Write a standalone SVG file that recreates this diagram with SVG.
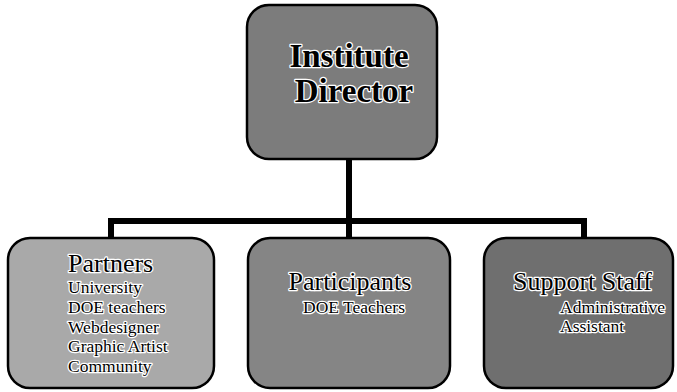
<svg xmlns="http://www.w3.org/2000/svg" width="677" height="392" viewBox="0 0 677 392">
<style>
.box{stroke:#000;stroke-width:2.5}
.t{font-family:"Liberation Serif","Times New Roman",serif;fill:#000;stroke:#fff;stroke-width:2.5;paint-order:stroke;stroke-linejoin:round}
.h{font-size:26px}
.s{font-size:17.5px}
.b{font-size:33px;font-weight:bold}
.c{fill:none;stroke:#000;stroke-width:6;stroke-linecap:square;stroke-linejoin:miter}
</style>
<rect width="677" height="392" fill="#fff"/>
<g id="connectors">
<path class="c" d="M349 160V221M111 238V221H584V238M349 221V238"/>
</g>
<g id="director">
<rect class="box" x="247" y="5" width="190" height="154" rx="22" fill="#7c7c7c"/>
<text class="t b" x="349" y="67" text-anchor="middle">Institute</text>
<text class="t b" x="354" y="102" text-anchor="middle">Director</text>
</g>
<g id="partners">
<rect class="box" x="8" y="238" width="206" height="150" rx="22" fill="#a9a9a9"/>
<text class="t h" x="68" y="272">Partners</text>
<text class="t s" x="68" y="293">University</text>
<text class="t s" x="68" y="313">DOE teachers</text>
<text class="t s" x="68" y="333">Webdesigner</text>
<text class="t s" x="68" y="352">Graphic Artist</text>
<text class="t s" x="68" y="372">Community</text>
</g>
<g id="participants">
<rect class="box" x="248" y="238" width="202" height="150" rx="22" fill="#858585"/>
<text class="t h" x="350" y="290" text-anchor="middle">Participants</text>
<text class="t s" x="354" y="313" text-anchor="middle">DOE Teachers</text>
</g>
<g id="support">
<rect class="box" x="484" y="238" width="189" height="150" rx="22" fill="#6f6f6f"/>
<text class="t h" x="513" y="290">Support Staff</text>
<text class="t s" x="560" y="313">Administrative</text>
<text class="t s" x="560" y="332">Assistant</text>
</g>
</svg>
